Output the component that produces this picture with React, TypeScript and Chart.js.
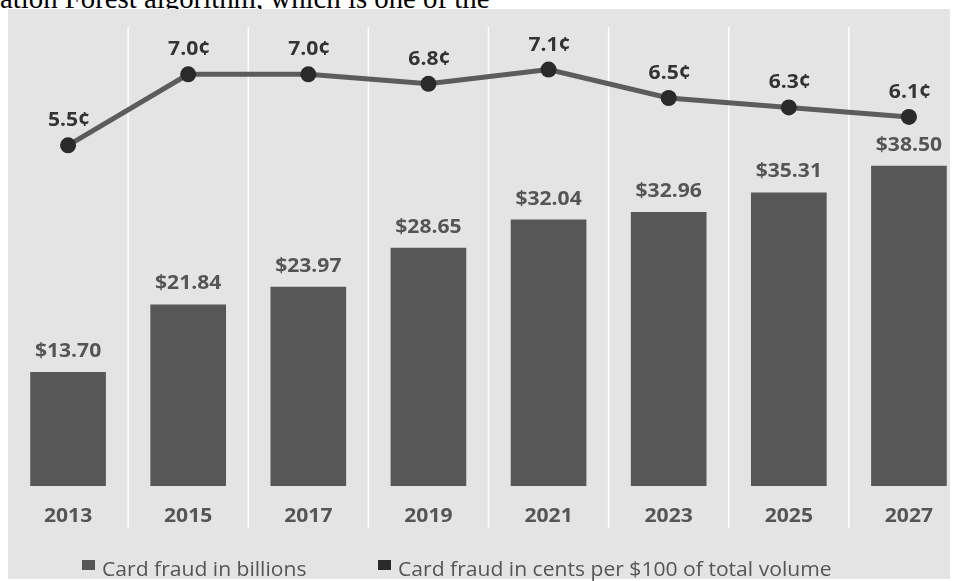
import React, { useEffect, useRef } from "react";
import { Chart, registerables } from "chart.js";

Chart.register(...registerables);

const years = ["2013", "2015", "2017", "2019", "2021", "2023", "2025", "2027"];
const fraudBillions = [13.7, 21.84, 23.97, 28.65, 32.04, 32.96, 35.31, 38.5];
const centsPer100 = [5.5, 7.0, 7.0, 6.8, 7.1, 6.5, 6.3, 6.1];
const seriesNames = ["Card fraud in billions", "Card fraud in cents per $100 of total volume"];

const BAR_COLOR = "#575757";
const LINE_COLOR = "#5c5c5c";
const POINT_COLOR = "#2a2a2a";
const PANEL = "#e4e4e4";
const FONT = "'Open Sans', 'Noto Sans', sans-serif";
const SX = 1.055;

function stretchText(ctx: CanvasRenderingContext2D, text: string, x: number, y: number, align: "left" | "center") {
  ctx.save();
  ctx.translate(x, y);
  ctx.scale(SX, 1);
  ctx.textAlign = align;
  ctx.fillText(text, 0, 0);
  ctx.restore();
}

const decorPlugin = {
  id: "decor",
  beforeDraw(chart: any) {
    const { ctx } = chart;
    ctx.save();
    ctx.fillStyle = PANEL;
    ctx.fillRect(8, 9, 942, 570);
    const x = chart.scales.x;
    ctx.strokeStyle = "rgba(255,255,255,0.95)";
    ctx.lineWidth = 1.5;
    for (let i = 0; i < years.length - 1; i++) {
      const px = (x.getPixelForValue(i) + x.getPixelForValue(i + 1)) / 2;
      ctx.beginPath();
      ctx.moveTo(px, 27);
      ctx.lineTo(px, 528);
      ctx.stroke();
    }
    ctx.restore();
  },
  afterDatasetsDraw(chart: any) {
    const { ctx } = chart;
    ctx.save();
    ctx.textBaseline = "alphabetic";
    ctx.font = `bold 20px ${FONT}`;
    const barMeta = chart.getDatasetMeta(0);
    barMeta.data.forEach((el: any, i: number) => {
      ctx.fillStyle = "#555555";
      stretchText(ctx, "$" + fraudBillions[i].toFixed(2), el.x, el.y - 15, "center");
    });
    const lineMeta = chart.getDatasetMeta(1);
    lineMeta.data.forEach((el: any, i: number) => {
      ctx.fillStyle = "#333333";
      stretchText(ctx, centsPer100[i].toFixed(1) + "\u00a2", el.x + 1, el.y - 19, "center");
    });
    const x = chart.scales.x;
    ctx.fillStyle = "#555555";
    years.forEach((y, i) => {
      stretchText(ctx, y, x.getPixelForValue(i), 522, "center");
    });
    ctx.font = `20px ${FONT}`;
    const items = [
      { box: 82, color: BAR_COLOR, text: seriesNames[0] },
      { box: 378, color: POINT_COLOR, text: seriesNames[1] },
    ];
    items.forEach((it) => {
      ctx.fillStyle = it.color;
      ctx.fillRect(it.box, 560, 13, 10);
      ctx.fillStyle = "#555555";
      stretchText(ctx, it.text, it.box + 20, 576, "left");
    });
    ctx.restore();
  },
};

export default function App() {
  const ref = useRef<HTMLCanvasElement | null>(null);
  useEffect(() => {
    if (!ref.current) return;
    const chart = new Chart(ref.current, {
      type: "bar",
      data: {
        labels: years,
        datasets: [
          {
            type: "bar",
            label: seriesNames[0],
            data: fraudBillions,
            backgroundColor: BAR_COLOR,
            barPercentage: 0.63,
            categoryPercentage: 1,
            yAxisID: "y",
            order: 2,
          },
          {
            type: "line",
            label: seriesNames[1],
            data: centsPer100,
            borderColor: LINE_COLOR,
            borderWidth: 5,
            pointRadius: 8,
            pointBackgroundColor: POINT_COLOR,
            pointBorderWidth: 0,
            yAxisID: "y2",
            order: 1,
          } as any,
        ],
      },
      options: {
        responsive: false,
        animation: false,
        devicePixelRatio: 1,
        layout: { padding: { left: 4, right: 11, top: 27, bottom: 95 } },
        plugins: { legend: { display: false }, tooltip: { enabled: false } },
        scales: {
          x: { display: false, offset: true },
          y: { display: false, min: 0, max: 55.2 },
          y2: { display: false, min: -1.7, max: 8.0 },
        },
      },
      plugins: [decorPlugin],
    });
    return () => chart.destroy();
  }, []);

  return (
    <div
      style={{
        position: "fixed",
        left: 0,
        top: 0,
        width: 953,
        height: 581,
        overflow: "hidden",
        background: "#ffffff",
      }}
    >
      <div
        style={{
          position: "absolute",
          left: 0,
          top: -16,
          fontFamily: "'Liberation Serif', 'Times New Roman', serif",
          fontSize: 28.8,
          lineHeight: "28px",
          whiteSpace: "nowrap",
          color: "#000",
        }}
      >
        ation Forest algorithm, which is one of the
      </div>
      <canvas
        ref={ref}
        width={980}
        height={581}
        style={{ position: "absolute", left: 0, top: 0, width: 980, height: 581 }}
      />
    </div>
  );
}
